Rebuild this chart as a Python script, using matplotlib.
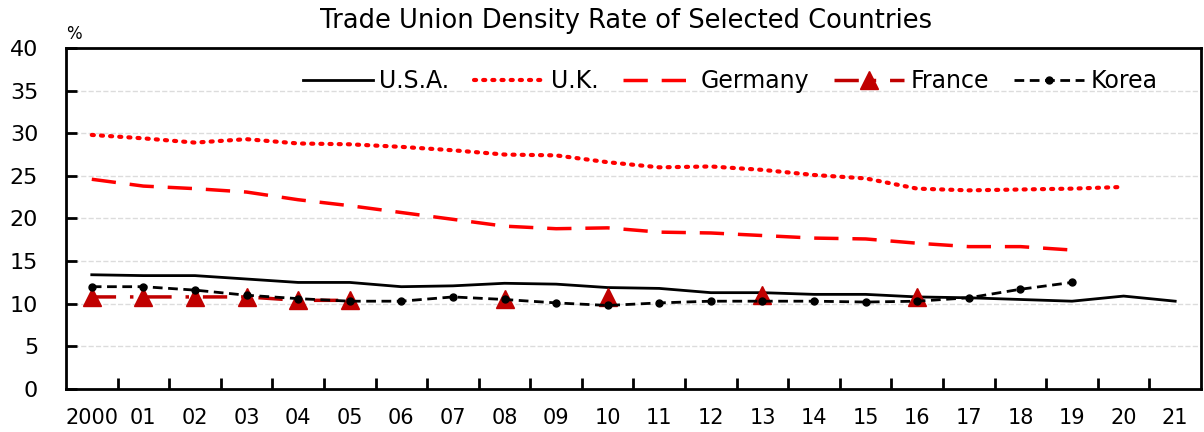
import matplotlib.pyplot as plt
import numpy as np

years = ['2000', '01', '02', '03', '04', '05', '06', '07', '08', '09', '10',
         '11', '12', '13', '14', '15', '16', '17', '18', '19', '20', '21']
nan = np.nan

usa = [13.4, 13.3, 13.3, 12.9, 12.5, 12.5, 12.0, 12.1, 12.4, 12.3, 11.9,
       11.8, 11.3, 11.3, 11.1, 11.1, 10.8, 10.7, 10.5, 10.3, 10.9, 10.3]
uk = [29.8, 29.4, 28.9, 29.3, 28.8, 28.7, 28.4, 28.0, 27.5, 27.4, 26.6,
      26.0, 26.1, 25.7, 25.1, 24.7, 23.5, 23.3, 23.4, 23.5, 23.7, nan]
germany = [24.6, 23.8, 23.5, 23.1, 22.2, 21.5, 20.7, 19.9, 19.1, 18.8, 18.9,
           18.4, 18.3, 18.0, 17.7, 17.6, 17.1, 16.7, 16.7, 16.3, nan, nan]
france = [10.8, 10.8, 10.8, 10.8, 10.4, 10.4, nan, nan, 10.5, nan, 10.8,
          nan, nan, 11.0, nan, nan, 10.8, nan, nan, nan, nan, nan]
korea = [12.0, 12.0, 11.6, 11.0, 10.6, 10.3, 10.3, 10.8, 10.5, 10.1, 9.8,
         10.1, 10.3, 10.3, 10.3, 10.2, 10.3, 10.7, 11.7, 12.5, nan, nan]

plt.rcParams['font.family'] = ['DejaVu Sans']

fig = plt.figure(figsize=(12.04, 4.32), dpi=100)
ax = fig.add_axes([0.0548, 0.0995, 0.9427, 0.7895])

x = np.arange(len(years))
ax.plot(x, usa, color='black', lw=2, label='U.S.A.')
ax.plot(x, uk, color='#ff0000', lw=3, linestyle=(0, (0.5, 1.7)),
        dash_capstyle='round', label='U.K.')
ax.plot(x, germany, color='#ff0000', lw=2.5, linestyle=(0, (7, 4)), label='Germany')
ax.plot(x, france, color='#c00000', lw=2.5, linestyle=(0, (7, 4, 1, 4)),
        marker='^', markersize=13, label='France')
ax.plot(x, korea, color='black', lw=2, linestyle=(0, (3.5, 2)),
        marker='o', markersize=5, label='Korea')

ax.set_xlim(-0.5, len(years) - 0.5)
ax.set_ylim(0, 40)
ax.set_yticks(np.arange(0, 41, 5))
ax.set_xticks(x)
ax.set_xticklabels(years)
ax.set_xticks(np.arange(0.5, len(years) - 1, 1), minor=True)
ax.tick_params(axis='x', which='major', length=0, pad=14, labelsize=15)
ax.tick_params(axis='x', which='minor', direction='in', length=8, width=2)
ax.tick_params(axis='y', direction='in', length=8, width=2, pad=20, labelsize=16)
for s in ax.spines.values():
    s.set_linewidth(2)
ax.yaxis.grid(True, color='#dcdcdc', linestyle='--', lw=1)
ax.set_axisbelow(True)

ax.text(0.0, 1.015, '%', transform=ax.transAxes, fontsize=12, ha='left', va='bottom')
fig.text(0.52, 0.951, 'Trade Union Density Rate of Selected Countries',
         fontsize=18.5, ha='center', va='center')

ax.legend(loc='upper center', bbox_to_anchor=(0.585, 1.0), ncol=5, frameon=False,
          fontsize=17, handlelength=3.0, handletextpad=0.25, columnspacing=1.05)

fig.savefig('out.png', dpi=100)
